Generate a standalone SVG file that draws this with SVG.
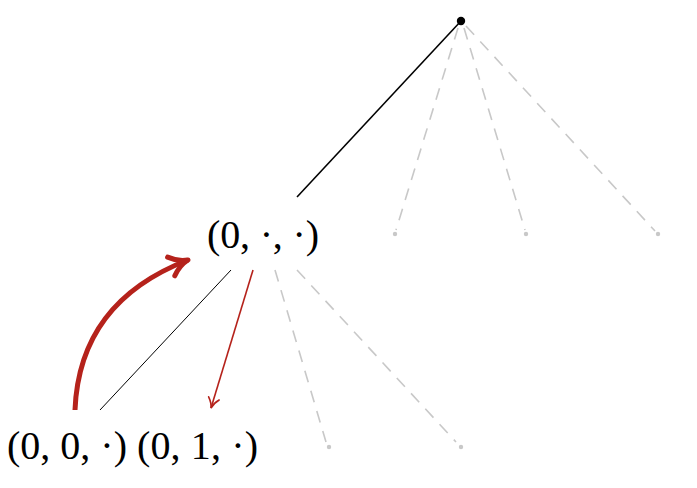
<svg xmlns="http://www.w3.org/2000/svg" width="697" height="488" viewBox="0 0 697 488">
<style>
.lbl{font-family:"Liberation Serif","DejaVu Serif",serif;font-size:40px;fill:#000}
.dash{stroke:#c8c8c8;stroke-width:1.6;stroke-dasharray:12 9;fill:none}
.gdot{fill:#c8c8c8}
</style>
<defs>
<marker id="ahThin" markerWidth="14" markerHeight="14" refX="11" refY="7" orient="auto" markerUnits="userSpaceOnUse">
<path d="M1,1.5 Q6,6 11,7 Q6,8 1,12.5" fill="none" stroke="#b5221b" stroke-width="1.6" stroke-linecap="round"/>
</marker>
<marker id="ahThick" markerWidth="30" markerHeight="30" refX="22" refY="15" orient="auto" markerUnits="userSpaceOnUse">
<path d="M4,5 Q12,13 22,15 Q12,17 4,25" fill="none" stroke="#b5221b" stroke-width="5" stroke-linecap="round" stroke-linejoin="round"/>
</marker>
</defs>
<g id="connectors">
<line x1="461" y1="21" x2="297" y2="197" stroke="#000" stroke-width="1.6"/>
<line class="dash" x1="458" y1="28" x2="396" y2="230"/>
<line class="dash" x1="464" y1="28" x2="525" y2="230"/>
<line class="dash" x1="466" y1="26" x2="655" y2="231"/>
<line x1="231" y1="270" x2="100" y2="410" stroke="#000" stroke-width="1"/>
<line x1="253" y1="270" x2="211" y2="408" stroke="#b5221b" stroke-width="1.6" marker-end="url(#ahThin)"/>
<line class="dash" x1="275" y1="270" x2="326" y2="442"/>
<line class="dash" x1="297" y1="270" x2="456" y2="442"/>
<path d="M75,410 C78,335 118,287 188,260" fill="none" stroke="#b5221b" stroke-width="5" marker-end="url(#ahThick)"/>
</g>
<g id="root"><circle cx="461" cy="21" r="4.2" fill="#000"/></g>
<g id="leaf1"><circle class="gdot" cx="395" cy="234" r="2.2"/></g>
<g id="leaf2"><circle class="gdot" cx="526" cy="234" r="2.2"/></g>
<g id="leaf3"><circle class="gdot" cx="658" cy="234" r="2.2"/></g>
<g id="leaf4"><circle class="gdot" cx="329" cy="447" r="2.2"/></g>
<g id="leaf5"><circle class="gdot" cx="461" cy="447" r="2.2"/></g>
<g id="n0"><text class="lbl" x="207" y="248" textLength="112" lengthAdjust="spacing">(0, ·, ·)</text></g>
<g id="n00"><text class="lbl" x="7" y="459" textLength="120" lengthAdjust="spacing">(0, 0, ·)</text></g>
<g id="n01"><text class="lbl" x="137" y="459" textLength="121" lengthAdjust="spacing">(0, 1, ·)</text></g>
</svg>
